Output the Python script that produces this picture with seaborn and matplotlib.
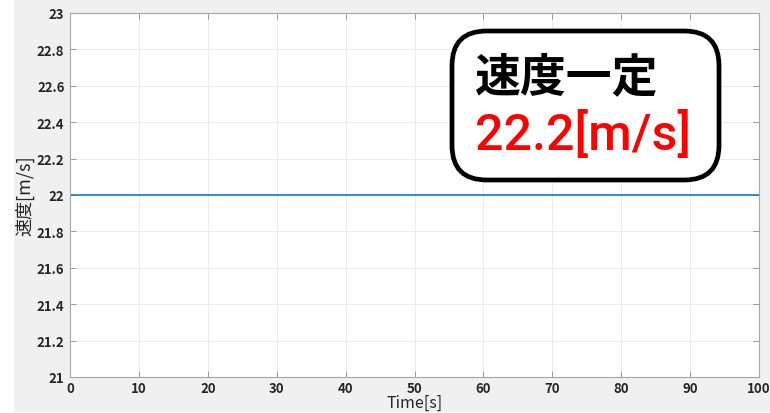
import matplotlib
matplotlib.use("Agg")
import matplotlib.pyplot as plt
import seaborn as sns
import pandas as pd
from matplotlib.patches import Rectangle, FancyBboxPatch

# data
time_s = [0, 100]
speed_ms = [22.0, 22.0]
x_ticks = [0, 10, 20, 30, 40, 50, 60, 70, 80, 90, 100]
y_ticks = [21, 21.2, 21.4, 21.6, 21.8, 22, 22.2, 22.4, 22.6, 22.8, 23]
y_tick_labels = ["21", "21.2", "21.4", "21.6", "21.8", "22", "22.2", "22.4", "22.6", "22.8", "23"]
box_title = "速度一定"
box_value = "22.2[m/s]"
x_label = "Time[s]"
y_label = "速度[m/s]"

sns.set_style("ticks")
plt.rcParams['font.family'] = ['Noto Sans CJK JP', 'DejaVu Sans']

W, H = 770, 414
fig = plt.figure(figsize=(W / 100, H / 100), dpi=100, facecolor="white")
fig.patches.append(Rectangle((14 / W, 1 / H), (W - 14) / W, (H - 1) / H,
                             transform=fig.transFigure, facecolor="#f0f0f0",
                             edgecolor="none", zorder=-10))

ax = fig.add_axes([70 / W, (H - 378) / H, (759 - 70) / W, (378 - 14) / H])
ax.set_facecolor("white")

df = pd.DataFrame({"t": time_s, "v": speed_ms})
sns.lineplot(data=df, x="t", y="v", ax=ax, color="#0072BD", linewidth=1.1)

ax.set_xlim(0, 100)
ax.set_ylim(21, 23)
ax.set_xticks(x_ticks)
ax.set_xticklabels([str(v) for v in x_ticks])
ax.set_yticks(y_ticks)
ax.set_yticklabels(y_tick_labels)
ax.grid(True, color="#e8e8e8", linewidth=0.6)
ax.set_axisbelow(True)

for s in ax.spines.values():
    s.set_visible(True)
    s.set_color("#a6a6a6")
    s.set_linewidth(0.8)

ax.tick_params(axis="both", which="both", direction="in", length=4, width=0.6,
               color="#8c8c8c", labelcolor="#262626", labelsize=9.5,
               top=True, right=True)
for lbl in ax.get_xticklabels() + ax.get_yticklabels():
    lbl.set_fontweight("bold")
ax.tick_params(axis="y", pad=4)
ax.tick_params(axis="x", pad=3)

ax.set_xlabel(x_label, fontsize=11.5, color="#262626", labelpad=-1)
ax.set_ylabel(y_label, fontsize=13, color="#262626")
ax.yaxis.set_label_coords(-0.052, 0.5)

# annotation box (pixel placement converted to figure fraction)
bx0, by0, bx1, by1 = 452, 32, 719, 181
box = FancyBboxPatch((bx0 / W, 1 - by1 / H), (bx1 - bx0) / W, (by1 - by0) / H,
                     boxstyle="round,pad=0,rounding_size=0.045",
                     transform=fig.transFigure, facecolor="white",
                     edgecolor="black", linewidth=3.4, zorder=5,
                     mutation_aspect=W / H)
fig.patches.append(box)
fig.text(475 / W, 1 - 78 / H, box_title, fontsize=33, fontweight="bold",
         color="black", ha="left", va="center", zorder=6)
fig.text(475 / W, 1 - 135 / H, box_value, fontsize=36, fontweight="medium",
         family=["Roboto", "DejaVu Sans"],
         color="#ff0000", ha="left", va="center", zorder=6)

fig.savefig("out.png", dpi=100, facecolor=fig.get_facecolor())
